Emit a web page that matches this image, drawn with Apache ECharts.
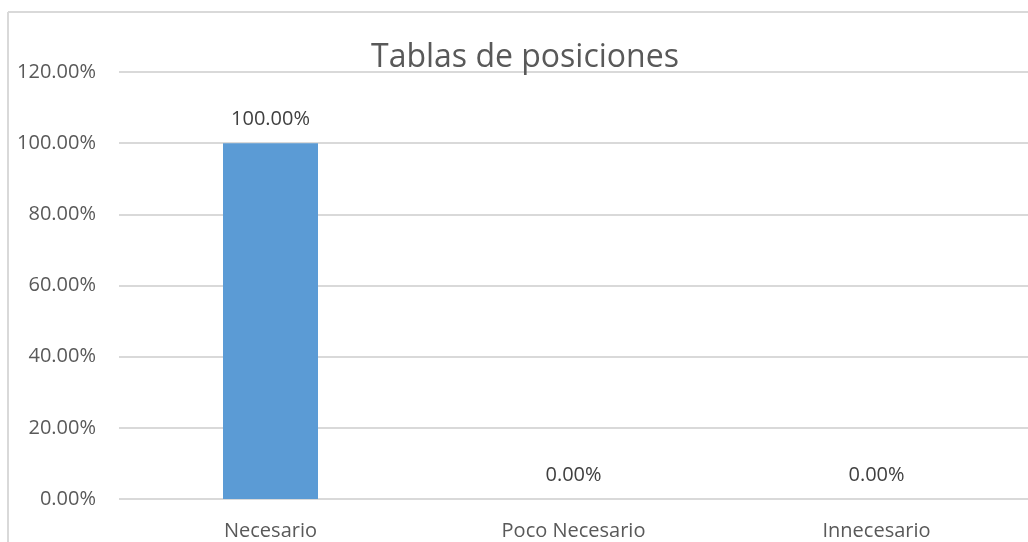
<!DOCTYPE html>
<html>
<head>
<meta charset="utf-8">
<script src="https://cdn.jsdelivr.net/npm/echarts@6/dist/echarts.min.js"></script>
<style>
  html, body { margin: 0; padding: 0; background: #fff; }
  #mainChart { width: 1028px; height: 542px; }
</style>
</head>
<body>
<div id="mainChart"></div>
<script type="text/javascript">
// datos del grafico
var categorias = ['Necesario', 'Poco Necesario', 'Innecesario'];
var porcentajes = [100, 0, 0];
var titulo = 'Tablas de posiciones';

var myChart = echarts.init(document.getElementById('mainChart'));
var fuente = '"Open Sans", "Noto Sans", sans-serif';

var options = {
    animation: false,
    color: ['#5b9bd5'],
    title: {
        text: titulo,
        left: 366,
        top: 37,
        textStyle: { fontFamily: fuente, fontSize: 32, fontWeight: 'normal', color: '#595959' }
    },
    grid: { left: 119, right: 0, top: 72, bottom: 43 },
    xAxis: [{
        type: 'category',
        data: categorias,
        axisLine: { show: false },
        axisTick: { show: false },
        axisLabel: { fontFamily: fuente, fontSize: 20, color: '#595959', margin: 22 }
    }],
    yAxis: [{
        type: 'value',
        min: 0,
        max: 120,
        interval: 20,
        axisLine: { show: false },
        axisTick: { show: false },
        splitLine: { lineStyle: { color: '#d9d9d9', width: 2 } },
        axisLabel: {
            fontFamily: fuente, fontSize: 20, color: '#595959', margin: 23,
            formatter: function (v) { return v.toFixed(2) + '%'; }
        }
    }],
    series: [{
        type: 'bar',
        data: porcentajes,
        barWidth: 95,
        label: {
            show: true,
            position: 'top',
            distance: 14,
            fontFamily: fuente, fontSize: 20, color: '#404040',
            formatter: function (p) { return p.value.toFixed(2) + '%'; }
        }
    }],
    graphic: [
        { type: 'line', shape: { x1: 8, y1: 12, x2: 1028, y2: 12 }, style: { stroke: '#d9d9d9', lineWidth: 2 } },
        { type: 'line', shape: { x1: 8, y1: 12, x2: 8, y2: 542 }, style: { stroke: '#d9d9d9', lineWidth: 2 } }
    ]
};
myChart.setOption(options);
</script>
</body>
</html>
